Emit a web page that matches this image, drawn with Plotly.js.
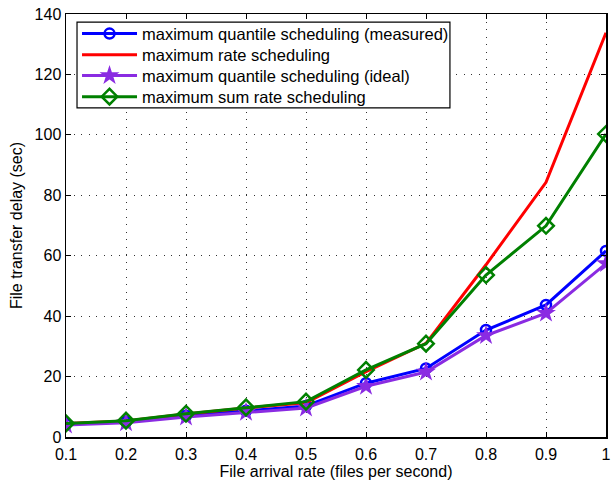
<!DOCTYPE html>
<html><head><meta charset="utf-8">
<script src="https://cdn.plot.ly/plotly-3.0.1.min.js"></script>
<style>body{margin:0;background:#fff}#c{width:616px;height:480px}</style>
</head><body><div id="c"></div>
<script>
const arrivalRate = [0.1,0.2,0.3,0.4,0.5,0.6,0.7,0.8,0.9,1.0];
const quantileMeasured = [4.3,5.0,7.0,8.7,10.3,17.8,22.7,35.4,43.7,61.6];
const maxRate = [4.5,5.3,7.6,9.6,11.3,21.6,31.0,57.0,84.3,133.8];
const quantileIdeal = [4.0,4.7,6.6,8.2,9.6,16.8,21.5,33.6,41.0,57.4];
const sumRate = [4.5,5.4,7.7,9.8,11.7,22.2,30.9,53.6,69.9,100.3];
const xTicks = [0.1,0.2,0.3,0.4,0.5,0.6,0.7,0.8,0.9,1];
const yTicks = [0,20,40,60,80,100,120,140];

const traces = [
 {x: arrivalRate, y: quantileMeasured, name: 'maximum quantile scheduling (measured)', mode: 'lines+markers', legend:'legend',
  line:{color:'#0000ff', width:3}, marker:{symbol:'circle-open', size:10, color:'#0000ff', line:{width:2.5}}},
 {x: arrivalRate, y: maxRate, name: 'maximum rate scheduling', mode: 'lines', legend:'legend2',
  line:{color:'#ff0000', width:3}},
 {x: arrivalRate, y: quantileIdeal, name: 'maximum quantile scheduling (ideal)', mode: 'lines+markers', legend:'legend3',
  line:{color:'#8a2be2', width:3}, marker:{symbol:'star', size:15, color:'#8a2be2'}},
 {x: arrivalRate, y: sumRate, name: 'maximum sum rate scheduling', mode: 'lines+markers', legend:'legend4',
  line:{color:'#008000', width:3}, marker:{symbol:'diamond-open', size:12, color:'#008000', line:{width:2.5}}}
];

const axisCommon = {showline:true, linecolor:'#000', linewidth:1.5, mirror:'ticks', ticks:'inside', ticklen:5,
  tickcolor:'#000', showgrid:true, gridcolor:'#333', griddash:'1px,6.5px', gridwidth:1, zeroline:false,
  tickfont:{family:'Liberation Sans, Arial, sans-serif', size:16, color:'#000'}};

function leg(y){
  return {x:0.0204, y:y, xanchor:'left', yanchor:'middle', bgcolor:'rgba(0,0,0,0)', borderwidth:0,
    font:{size:16.5, color:'#000'}, itemwidth:55};
}

const layout = {
 width:616, height:480, paper_bgcolor:'#fff', plot_bgcolor:'#fff',
 margin:{l:66, r:10, t:14, b:43},
 font:{family:'Liberation Sans, Arial, sans-serif', color:'#000'},
 xaxis: Object.assign({}, axisCommon, {range:[0.1,1], tickvals:xTicks, ticktext:xTicks.map(String),
   ticklabelstandoff:2,
   title:{text:'File arrival rate (files per second)', font:{size:16}, standoff:0}}),
 yaxis: Object.assign({}, axisCommon, {range:[0,140], tickvals:yTicks, ticklabelstandoff:0,
   title:{text:'File transfer delay (sec)', font:{size:16}, standoff:8}}),
 showlegend:true,
 legend: leg(0.953), legend2: leg(0.903), legend3: leg(0.854), legend4: leg(0.804),
 shapes:[{type:'rect', xref:'paper', yref:'paper', x0:0.0204, x1:0.711, y0:0.778, y1:0.981,
   layer:'above', fillcolor:'#fff', line:{color:'#000', width:1.2}}]
};
Plotly.newPlot('c', traces, layout, {displayModeBar:false, staticPlot:true});
</script></body></html>
